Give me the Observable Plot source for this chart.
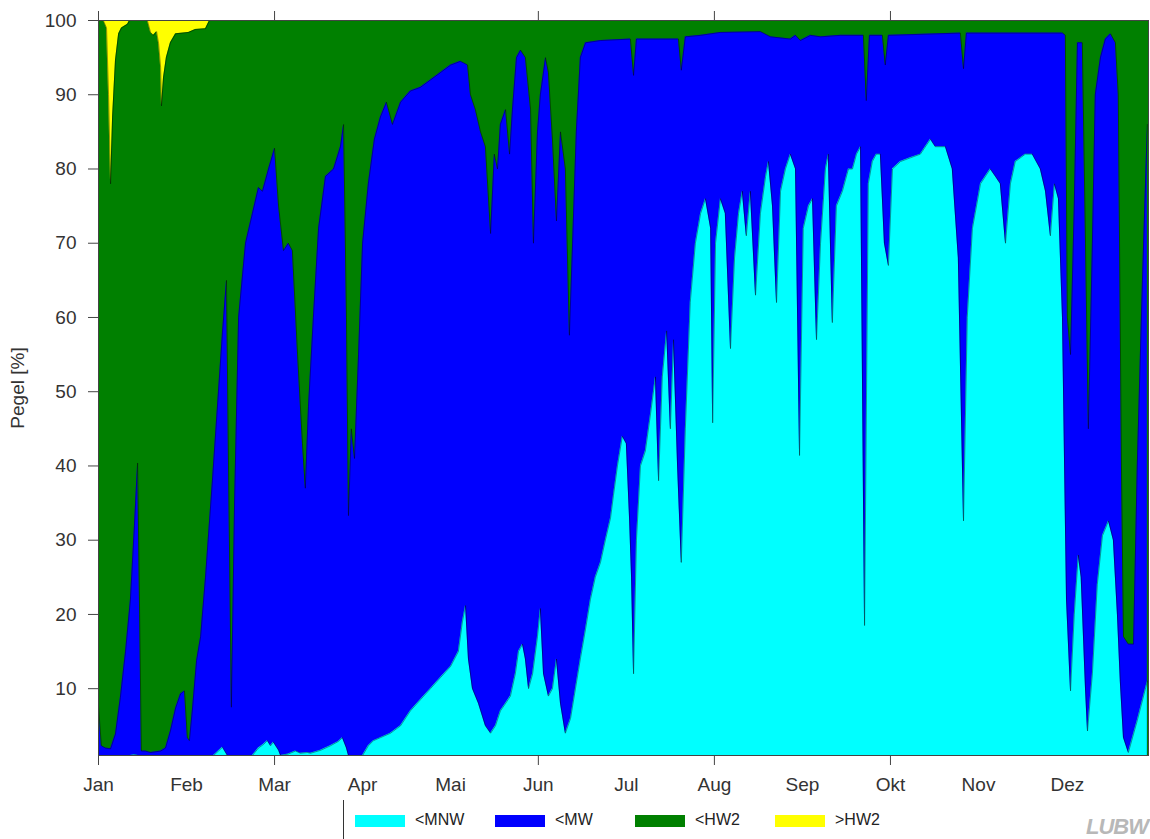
<!DOCTYPE html>
<html>
<head>
<meta charset="utf-8">
<script src="https://cdn.jsdelivr.net/npm/d3@7"></script>
<script src="https://cdn.jsdelivr.net/npm/@observablehq/plot@0.6"></script>
<style>
  body { margin: 0; background: #fff; font-family: "Liberation Sans", Arial, sans-serif; }
  #wrap { position: relative; width: 1150px; }
  #legend { position: relative; height: 34px; width: 1150px; }
  .sw { position: absolute; top: 10px; width: 50px; height: 12px; }
  .lab { position: absolute; top: 6px; font-size: 16px; color: #222; }
  #vline { position: absolute; left: 343px; top: -5px; width: 1px; height: 39px; background: #333; }
  #logo { position: absolute; left: 1086px; top: 9px; font-size: 22px; font-weight: bold; font-style: italic; color: #b8b8b8; letter-spacing: -1px; }
</style>
</head>
<body>
<div id="wrap">
  <div id="chart"></div>
  <div id="legend"></div>
</div>
<script>
// Category names / colours
const categories = ["<MNW", "<MW", "<HW2", ">HW2"];
const colors = ["#00ffff", "#0000ff", "#008000", "#ffff00"];
const monthLabels = ["Jan","Feb","Mar","Apr","Mai","Jun","Jul","Aug","Sep","Okt","Nov","Dez"];
// positions (day of year) at which the month labels sit in the picture
const monthDays = [0, 30.6, 61.2, 91.8, 122.4, 152.9, 183.5, 214.1, 244.7, 275.3, 305.9, 336.8];
const tickMonths = ["Jan", "Mar", "Jun", "Aug", "Okt"];
const yTicks = [10,20,30,40,50,60,70,80,90,100];

// Upper boundary of <MNW (cyan), day of year -> %
const mnwDays = [0,11.1,12.5,13.9,40.0,41.7,43.1,44.8,53.5,55.6,57.4,58.7,59.8,60.8,62.6,63.3,66.0,68.5,70.2,72.6,73.7,77.2,80.6,83.4,84.8,86.2,86.9,91.8,93.8,95.6,98.0,101.5,105.0,108.4,111.9,115.4,118.9,122.4,125.1,126.5,127.6,128.6,130.0,132.1,134.5,136.3,138.0,139.7,141.5,143.2,144.9,146.0,147.4,148.4,149.5,150.9,152.6,153.6,154.7,156.4,157.8,159.2,160.6,162.3,164.1,165.8,167.5,169.3,171.0,172.7,174.5,176.2,178.0,179.0,180.4,182.1,183.5,184.6,185.3,186.0,187.0,188.4,190.1,191.9,193.6,194.7,196.0,197.5,198.8,199.9,201.3,202.6,204.0,205.7,207.5,209.3,211.0,212.8,213.5,214.5,216.2,217.9,219.7,221.1,222.5,223.8,225.2,226.6,228.4,230.1,231.9,232.9,234.3,235.7,237.1,238.8,240.5,242.3,243.7,245.0,246.8,248.2,249.6,251.0,252.7,253.7,255.1,256.5,258.6,260.7,262.1,263.5,264.9,266.3,267.6,269.0,270.4,271.8,273.2,274.6,276.0,278.8,282.2,285.7,289.2,290.9,294.4,296.8,298.9,300.7,302.0,303.8,306.6,310.0,311.8,313.5,315.3,317.0,318.7,322.2,324.6,327.4,329.2,330.9,332.3,333.7,335.1,336.5,337.9,339.2,340.6,341.6,343.1,343.8,345.5,347.2,349.0,351.1,352.8,354.2,355.2,356.3,358.0,361.1,364.6];
const mnwVals = [1,1,1.1,1,1,1.6,2.1,1,1,2,2.5,3,2.3,2.8,1.7,1,1.2,1.6,1.3,1.4,1.3,1.7,2.3,2.9,3.4,2,1,1,2.3,3,3.4,4,5,7,8.5,10,11.5,13,15,19,21.2,14,10,8,5,4,5,7,8,9,12,15,16,14,10,12,17,20.8,12,9,10,14,8,4,6,10,14,18,22,25,27,30,33,36,40,44,43,33,25,12,30,40,42,47,52,38,52,58.2,45,57,40,27,45,62,70,74,76,72,45.8,70,76,74,55.8,68,74,77,71,77,63,74,79,81,75,62,77,80,82,80,41.4,72,75,76,57,70,80,82,59.3,75,77,80,80,82,83,18.5,78,81,82,82,70,67,80,81,81.5,82,84,83,83,80,68,32.6,60,72,78,80,79,78,70,78,81,82,82,80,77,71,78,76,60,22,9.7,20,28,25,10,4.3,12,24,30.6,32.6,30,20,11,3.4,1.4,5.7,11];

// Upper boundary of <MW (blue)
const mwDays = [0,1.0,2.4,4.2,5.9,7.6,9.4,11.1,12.5,13.6,14.3,14.9,16.3,18.1,21.6,23.3,25.0,26.8,28.5,29.9,30.9,31.6,32.7,34.1,35.5,37.2,39.6,41.7,43.1,44.5,45.2,46.2,47.3,48.7,51.1,53.5,55.6,57.0,59.1,61.2,62.6,64.3,66.0,67.4,69.2,70.9,71.9,73.0,74.7,76.5,78.9,81.7,84.1,85.2,86.2,86.9,87.9,89.0,90.4,91.8,93.8,95.9,98.0,100.1,102.2,105.0,108.4,111.9,115.4,118.9,122.4,125.8,128.3,129.3,131.0,132.8,134.5,136.3,137.6,138.7,139.7,141.5,142.9,143.9,145.3,146.7,148.4,150.2,151.2,152.6,153.6,155.4,156.4,157.8,159.2,160.6,162.3,163.7,164.8,166.1,167.5,169.3,174.5,184.9,186.0,187.0,201.6,202.6,204.0,209.3,216.2,230.1,233.6,240.5,242.3,244.0,247.5,251.0,257.9,265.9,266.9,268.0,272.5,273.5,274.6,299.6,300.7,301.7,335.1,336.1,336.8,337.9,339.2,340.3,342.0,343.1,344.1,345.5,346.5,348.3,350.0,351.8,353.5,354.5,355.6,356.3,358.0,359.8,361.1,362.9,364.6];
const mwVals = [7.7,2.3,2.0,1.9,3.9,8.8,15,22,32,40.4,20,1.6,1.6,1.4,1.6,2,4.3,7.4,9.3,9.7,3.4,3,7.4,13.8,17,25,38,50,58,65,40,7.5,35,60,70,74,77.5,77,80,82.8,75,69,70,69,55,43,37,48,60,72,79,80,83,86,60,33.3,45,41,55,70,78,84,87,89,86,89,90.5,91,92,93,94,94.5,94,90,88,85,83,71.3,82,80,86,88,82,88,95,96,95,88,70,85,90,95,93,84,73,85,80,57.6,70,85,95,97,97.3,97.5,92.6,97.5,97.5,93.3,97.8,98,98.4,98.5,97.8,97.5,98,97.3,98,97.8,98,98,89.2,98,98,94,98,98.3,93.5,98.3,98.3,98,60,55,75,97,97,70,45,70,90,95,97.5,98.2,97,90,40,17,16,16,40,65,86];

// Upper boundary of <HW2 (green); above it up to 100 is >HW2 (yellow)
const hw2Days = [0,1.7,2.8,3.5,4.2,4.9,5.9,7.0,8.0,10.1,10.8,17.0,18.1,19.1,20.2,20.9,21.6,21.9,22.6,23.6,25.0,26.8,31.3,33.7,37.2,38.6,365];
const hw2Vals = [100,100,99,90,78,87,94.6,98.2,99,99.5,100,100,98.4,98,98.5,96.9,93.7,88.5,92.3,95,97,98.2,98.4,98.8,98.9,100,100];

const zip = (ds, vs) => ds.map((d, i) => ({d, v: vs[i]}));
const mnw = zip(mnwDays, mnwVals), mw = zip(mwDays, mwVals), hw2 = zip(hw2Days, hw2Vals);

const tickPos = tickMonths.map(m => monthDays[monthLabels.indexOf(m)]);
const lbl = d => monthLabels[monthDays.indexOf(d)];

const chart = Plot.plot({
  width: 1150, height: 805,
  marginLeft: 98, marginRight: 2, marginTop: 20, marginBottom: 50,
  x: {domain: [0, 365]},
  y: {domain: [1, 100]},
  style: {fontFamily: "'Liberation Sans', Arial, sans-serif", fontSize: "19px", color: "#333", background: "#fff"},
  marks: [
    Plot.areaY(hw2, {x: "d", y1: 1, y2: 100, fill: colors[3]}),
    Plot.areaY(hw2, {x: "d", y1: 1, y2: "v", fill: colors[2]}),
    Plot.areaY(mw, {x: "d", y1: 1, y2: "v", fill: colors[1]}),
    Plot.areaY(mnw, {x: "d", y1: 1, y2: "v", fill: colors[0]}),
    Plot.line(hw2, {x: "d", y: "v", stroke: "#000", strokeWidth: 0.5, strokeOpacity: 0.8}),
    Plot.line(mw, {x: "d", y: "v", stroke: "#000", strokeWidth: 0.5, strokeOpacity: 0.8}),
    Plot.line(mnw, {x: "d", y: "v", stroke: "#000", strokeWidth: 0.5, strokeOpacity: 0.8}),
    Plot.frame({stroke: "#444"}),
    Plot.axisY({ticks: yTicks, tickSize: 10, tickPadding: 12, label: "Pegel [%]", labelAnchor: "center", labelArrow: "none", labelOffset: 88, stroke: "#444"}),
    Plot.axisX({ticks: tickPos, tickFormat: () => "", tickSize: 10, stroke: "#444", label: null}),
    Plot.axisX({anchor: "top", ticks: tickPos, tickFormat: () => "", tickSize: 10, stroke: "#444", label: null}),
    Plot.axisX({ticks: monthDays, tickFormat: lbl, tickSize: 0, tickPadding: 22, label: null})
  ]
});
chart.style.display = "block";
document.getElementById("chart").appendChild(chart);

const legend = document.getElementById("legend");
const swX = [355, 495, 635, 775];
categories.forEach((c, i) => {
  const s = document.createElement("div");
  s.className = "sw"; s.style.left = swX[i] + "px"; s.style.background = colors[i];
  legend.appendChild(s);
  const t = document.createElement("div");
  t.className = "lab"; t.style.left = (swX[i] + 60) + "px"; t.textContent = c;
  legend.appendChild(t);
});
const vl = document.createElement("div"); vl.id = "vline"; legend.appendChild(vl);
const logo = document.createElement("div"); logo.id = "logo"; logo.textContent = "LUBW"; legend.appendChild(logo);
</script>
</body>
</html>
